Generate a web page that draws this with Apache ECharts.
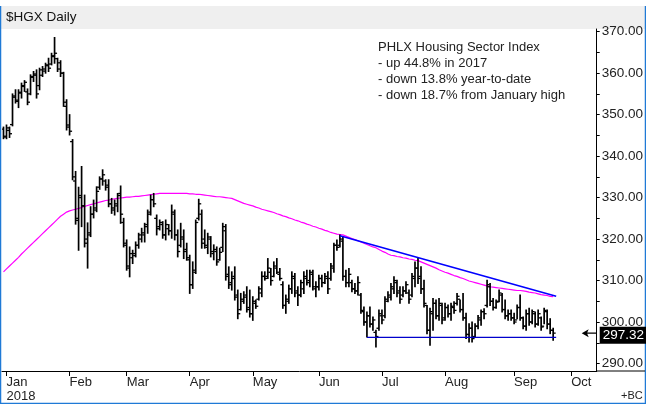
<!DOCTYPE html>
<html><head><meta charset="utf-8">
<script src="https://cdn.jsdelivr.net/npm/echarts@6/dist/echarts.min.js"></script>
<style>html,body{margin:0;padding:0;background:#fff}#c{width:646px;height:404px}</style>
</head><body><div id="c"></div>
<script>
// ---- data ----
const monthNames = ['Jan','Feb','Mar','Apr','May','Jun','Jul','Aug','Sep','Oct','Nov','Dec'];
const holidays = ['2018-01-15','2018-02-19','2018-03-30','2018-05-28','2018-07-04','2018-09-03'];
const firstDate = '2017-12-29';
const yTickValues = [290,295,300,305,310,315,320,325,330,335,340,345,350,355,360,365,370];
const yLabelValues = [290,300,310,320,330,340,350,360,370];
const high = [347.0,347.5,347.0,355.0,356.0,356.0,357.6,358.2,356.2,359.6,360.4,360.8,361.2,361.6,362.4,363.6,364.8,368.6,363.6,363.0,360.2,353.6,350.0,344.0,336.3,332.5,337.5,330.6,323.9,327.8,329.4,332.6,335.0,336.7,334.3,334.3,329.8,329.4,331.0,332.8,325.0,319.8,318.1,317.3,319.3,321.4,322.6,323.8,327.0,330.6,331.0,325.8,324.6,324.2,324.6,323.5,328.2,327.0,322.2,323.8,322.2,319.0,316.1,314.5,324.6,329.6,327.0,322.2,321.4,320.6,318.6,318.1,317.8,323.8,323.5,313.3,312.1,313.3,307.7,306.9,307.3,308.5,307.7,306.1,305.3,308.5,312.1,312.1,315.3,312.9,314.5,315.3,312.9,309.7,306.5,308.9,312.1,311.7,308.5,310.1,312.1,312.5,312.5,312.5,309.7,311.3,311.3,311.7,312.1,314.1,319.0,319.8,321.0,320.5,312.5,312.9,310.1,309.3,310.9,306.9,303.6,302.4,303.6,301.2,298.0,302.9,302.9,306.1,307.3,309.3,310.9,310.1,308.5,308.5,309.7,307.7,311.7,314.5,315.3,313.3,310.1,304.0,303.3,305.7,305.3,305.7,304.5,304.5,304.1,304.5,304.9,306.9,305.3,306.9,302.1,299.6,300.0,299.6,301.6,302.9,303.2,310.1,309.3,305.7,305.3,307.7,306.9,305.3,302.9,302.9,302.1,304.1,306.5,301.2,302.9,303.3,302.9,302.4,302.9,301.2,303.3,302.9,300.8,298.5];
const low = [344.2,344.2,344.5,347.3,352.8,351.7,354.0,355.6,352.4,354.8,358.0,354.0,356.0,359.2,360.0,360.4,362.0,362.4,360.4,359.2,352.0,346.3,345.1,334.3,323.6,317.3,323.0,318.1,313.0,320.6,325.1,326.6,332.0,333.0,331.8,327.8,326.2,325.8,326.6,323.8,318.1,312.5,310.9,314.1,315.7,317.8,319.3,319.3,321.4,325.8,327.8,321.0,322.2,320.2,319.8,321.0,320.2,319.8,315.7,318.1,315.3,314.9,306.9,308.1,311.7,324.6,317.8,317.8,316.5,315.7,315.0,313.7,314.9,317.0,310.1,308.1,307.7,305.3,300.8,302.9,304.5,302.4,301.2,300.4,303.3,305.3,306.1,310.1,310.5,308.9,310.9,311.7,310.1,303.3,302.1,304.5,306.9,306.1,304.0,306.1,306.9,308.9,308.5,307.7,306.1,307.7,308.5,309.3,306.9,310.1,312.0,317.3,318.1,310.1,308.5,308.5,307.3,306.9,306.5,302.1,299.2,296.4,298.8,298.0,294.0,298.0,299.6,301.0,304.9,305.3,306.9,306.1,304.5,306.1,306.9,304.5,306.1,308.5,309.3,306.9,303.6,297.2,294.4,298.0,300.8,300.4,299.6,300.4,301.2,300.4,302.1,304.1,302.4,300.4,296.0,295.2,295.2,296.4,298.4,299.2,300.8,303.6,304.0,302.9,303.3,304.9,302.4,300.8,300.4,300.4,299.6,300.8,300.4,298.4,298.0,299.2,299.6,298.8,299.2,298.0,299.6,298.4,297.2,295.6];
const open = [346.5,344.8,346.2,347.6,354.2,353.2,355.2,356.8,355.5,355.0,359.2,359.5,357.0,359.5,360.5,361.8,362.2,364.2,363.5,362.5,360.0,352.0,347.0,343.5,334.0,325.0,330.0,328.0,320.0,321.0,326.0,327.0,332.5,334.5,334.0,333.0,328.5,327.0,328.0,331.0,324.0,318.5,313.0,315.5,316.0,318.5,320.0,321.0,323.5,326.5,329.5,325.0,323.0,323.5,321.0,322.5,322.0,326.0,321.0,318.5,320.0,317.5,315.0,309.0,312.0,325.0,326.0,320.0,318.0,320.0,316.5,317.0,315.0,318.0,322.0,311.5,309.5,311.0,306.5,303.0,305.0,306.5,303.5,302.0,304.5,305.5,307.0,311.0,311.0,312.0,311.0,313.0,311.5,309.0,304.0,305.0,308.0,310.5,307.5,306.5,308.0,310.5,310.0,311.5,308.0,308.5,310.5,309.5,310.5,310.5,313.0,318.5,318.5,319.5,311.0,309.5,309.5,308.0,307.5,306.5,302.5,300.0,301.5,299.5,297.5,298.5,301.5,301.5,305.0,306.0,308.0,309.5,307.5,306.5,307.5,307.0,306.5,310.5,313.0,311.0,308.0,304.0,298.0,302.0,304.5,301.5,304.0,301.0,303.5,302.0,303.5,304.5,305.5,303.0,301.0,297.0,298.5,296.5,299.0,300.5,302.5,304.0,308.5,305.0,303.5,305.0,306.5,303.0,301.5,302.0,301.0,300.5,303.5,301.0,299.0,302.0,300.0,302.0,299.5,301.0,299.0,302.5,299.5,298.0];
const close = [344.6,346.8,345.4,354.5,353.5,355.4,357.0,357.8,353.0,359.0,359.8,355.0,360.8,361.0,362.0,361.2,364.0,364.8,361.0,360.0,353.0,347.5,346.0,335.0,324.5,330.5,328.0,319.0,321.5,326.0,327.5,331.5,334.5,335.5,332.5,328.5,327.5,328.5,330.5,326.0,319.0,313.5,316.5,316.5,318.5,321.0,321.5,323.0,326.0,329.5,328.5,322.5,324.0,321.0,323.5,322.0,326.5,321.0,317.0,320.5,317.0,315.5,309.0,312.5,324.0,328.5,319.0,318.5,320.5,317.0,317.5,314.5,316.8,323.0,311.0,309.0,310.5,306.0,302.0,305.5,306.0,303.0,302.0,305.0,303.8,308.0,311.0,310.5,313.0,310.0,313.5,312.0,310.5,304.0,305.5,308.0,311.0,307.0,306.5,309.5,311.0,309.5,312.0,308.5,308.5,310.5,309.5,311.0,308.0,313.5,318.5,318.0,320.0,311.0,309.5,311.5,308.0,307.5,309.5,302.8,300.0,301.5,299.5,300.5,296.5,302.0,300.5,305.5,306.5,308.5,310.0,307.0,305.5,307.5,309.0,305.5,311.0,313.0,310.5,308.0,304.5,298.0,302.5,304.5,301.5,304.5,300.5,303.5,302.0,303.8,302.8,306.2,303.0,301.0,297.0,298.5,296.0,299.0,301.0,302.5,302.0,309.0,305.0,303.5,304.8,307.0,303.0,301.5,302.0,301.0,300.0,303.5,301.0,299.0,302.0,300.0,302.5,299.5,302.0,298.8,302.8,299.5,298.0,297.32];
const movingAvg = [312.1,312.8,313.5,314.2,314.9,315.6,316.4,317.1,317.8,318.5,319.2,319.9,320.6,321.3,322.0,322.7,323.4,324.1,324.8,325.5,326.0,326.5,326.8,327.0,327.2,327.4,327.6,327.9,328.1,328.3,328.5,328.7,328.9,329.1,329.3,329.4,329.6,329.7,329.8,329.9,330.0,330.1,330.1,330.2,330.3,330.3,330.4,330.5,330.6,330.7,330.8,330.9,331.0,331.0,331.0,331.0,331.0,331.0,331.0,331.0,331.0,331.0,330.9,330.9,330.8,330.8,330.7,330.6,330.5,330.4,330.3,330.2,330.2,330.1,330.0,329.9,329.8,329.5,329.2,328.9,328.6,328.4,328.2,328.0,327.7,327.5,327.2,327.0,326.8,326.6,326.4,326.1,325.9,325.6,325.4,325.1,324.9,324.6,324.4,324.1,323.9,323.6,323.4,323.1,322.9,322.6,322.4,322.1,321.9,321.6,321.4,321.2,321.1,321.0,320.7,320.4,320.1,319.9,319.6,319.3,319.0,318.7,318.4,318.1,317.9,317.5,317.1,316.8,316.4,316.1,316.0,315.8,315.7,315.5,315.4,315.2,315.1,314.9,314.8,314.5,314.2,313.9,313.6,313.3,313.0,312.6,312.3,312.0,311.8,311.5,311.2,311.0,310.7,310.5,310.2,309.9,309.7,309.5,309.3,309.1,308.9,308.7,308.5,308.4,308.3,308.2,308.1,308.0,307.9,307.8,307.7,307.6,307.6,307.5,307.4,307.2,307.1,307.0,306.8,306.6,306.5,306.4,306.2,306.1];
const resistanceLine = [[112, 320.8], [184, 306.2]];
const supportLine = [[121, 296.3], [184, 296.3]];
const lastClose = 297.32;
const arrowAt = 194.5;
const noteLines = ['PHLX Housing Sector Index','- up 44.8% in 2017','- down 13.8% year-to-date','- down 18.7% from January high'];

// trading calendar
function tradingDays(n) {
  const out = [firstDate];
  const d = new Date(Date.UTC(2018, 0, 2));
  while (out.length < n) {
    const dow = d.getUTCDay();
    const s = d.toISOString().slice(0, 10);
    if (dow !== 0 && dow !== 6 && holidays.indexOf(s) < 0) out.push(s);
    d.setUTCDate(d.getUTCDate() + 1);
  }
  return out;
}
const dates = tradingDays(198);
function isMonthStart(i) {
  return i > 0 && dates[i].slice(0, 7) !== dates[i - 1].slice(0, 7);
}
const ohlc = high.map((h, i) => [i, open[i], h, low[i], close[i]]);

const chart = echarts.init(document.getElementById('c'), null, {renderer: 'canvas'});
const FONT = 'Liberation Sans, Arial, sans-serif';
chart.setOption({
  animation: false,
  backgroundColor: '#fff',
  grid: {left: 2, right: 48.5, top: 29, bottom: 33, containLabel: false},
  xAxis: {
    type: 'category', data: dates, boundaryGap: true,
    axisLine: {show: true, lineStyle: {color: '#000', width: 1}},
    axisTick: {show: true, alignWithLabel: true, length: 5, interval: (i) => isMonthStart(i), lineStyle: {color: '#000'}},
    axisLabel: {
      show: true, interval: (i) => isMonthStart(i), align: 'left', margin: 4,
      fontFamily: FONT, fontSize: 13, color: '#222', lineHeight: 14, padding: [0, 0, 0, 0],
      formatter: (v) => {
        const m = +v.slice(5, 7) - 1;
        return m === 0 ? monthNames[m] + '\n' + v.slice(0, 4) : monthNames[m];
      }
    },
    splitLine: {show: false}
  },
  yAxis: {
    type: 'value', position: 'right', min: 288.19, max: 370.65, scale: true,
    axisLine: {show: true, lineStyle: {color: '#000', width: 1}},
    axisTick: {show: true, length: 3, customValues: yTickValues, lineStyle: {color: '#000'}},
    axisLabel: {show: true, customValues: yLabelValues, margin: 5, fontFamily: FONT, fontSize: 13.5, color: '#222',
      padding: [4, 0, 0, 0], formatter: (v) => v.toFixed(2)},
    splitLine: {show: false}
  },
  series: [
    {
      type: 'custom', name: 'HGX', data: ohlc, encode: {x: 0, y: [1, 2, 3, 4]},
      clip: true,
      renderItem: (params, api) => {
        const x = api.value(0);
        const o = api.coord([x, api.value(1)]);
        const h = api.coord([x, api.value(2)]);
        const l = api.coord([x, api.value(3)]);
        const c = api.coord([x, api.value(4)]);
        const st = {stroke: '#000', lineWidth: 1.7};
        const st2 = {stroke: '#000', lineWidth: 1.3};
        return {type: 'group', children: [
          {type: 'line', shape: {x1: h[0], y1: h[1] - 0.5, x2: l[0], y2: l[1] + 0.5}, style: st},
          {type: 'line', shape: {x1: o[0] - 2.5, y1: o[1], x2: o[0], y2: o[1]}, style: st2},
          {type: 'line', shape: {x1: c[0], y1: c[1], x2: c[0] + 2.5, y2: c[1]}, style: st2}
        ]};
      },
      z: 3
    },
    {
      type: 'line', name: 'MA', data: movingAvg, symbol: 'none', smooth: false,
      lineStyle: {color: '#ff00ff', width: 1.2}, z: 2
    },
    {
      type: 'line', name: 'Resistance', data: resistanceLine, symbol: 'none',
      lineStyle: {color: '#0000ff', width: 1.6}, z: 4
    },
    {
      type: 'line', name: 'Support', data: supportLine, symbol: 'none',
      lineStyle: {color: '#0000cc', width: 1.4}, z: 4,
      markLine: {
        silent: true, symbol: 'none',
        lineStyle: {color: 'rgba(0,0,0,0)', width: 1, type: 'solid'},
        label: {show: true, position: 'end', distance: 3, offset: [0, 2], formatter: lastClose.toFixed(2),
          backgroundColor: '#000', color: '#fff', padding: [2, 3, 1, 3], fontFamily: FONT, fontSize: 13.5},
        emphasis: {disabled: true},
        data: [{yAxis: lastClose}]
      },
      markPoint: {
        silent: true,
        symbol: 'path://M0,4 L7,0 L5.5,3.4 L15,3.4 L15,4.6 L5.5,4.6 L7,8 Z',
        symbolSize: [15, 8], symbolKeepAspect: false,
        itemStyle: {color: '#000'},
        label: {show: false},
        data: [{coord: [arrowAt, lastClose]}]
      }
    }
  ],
  graphic: [
    {type: 'rect', shape: {x: 0, y: 6, width: 646, height: 23}, style: {fill: '#efefef'}, z: -1, silent: true},
    {type: 'text', left: 6, top: 10, style: {text: '$HGX Daily', font: '13.5px ' + FONT, fill: '#111'}},
    {type: 'polyline', shape: {points: [[0.5, 6], [0.5, 403.5], [645.5, 403.5], [645.5, 6]]},
      style: {stroke: '#1f7ad6', lineWidth: 1.5, fill: null}, silent: true},
    {type: 'line', shape: {x1: 597, y1: 371, x2: 645, y2: 371}, style: {stroke: '#000', lineWidth: 1}, silent: true},
    {type: 'text', left: 378, top: 39, style: {text: noteLines.join('\n'), font: '13px ' + FONT, fill: '#222', lineHeight: 16.2}},
    {type: 'text', left: 621, top: 390, style: {text: '+BC', font: '11px ' + FONT, fill: '#222'}}
  ]
});
</script>
</body></html>
